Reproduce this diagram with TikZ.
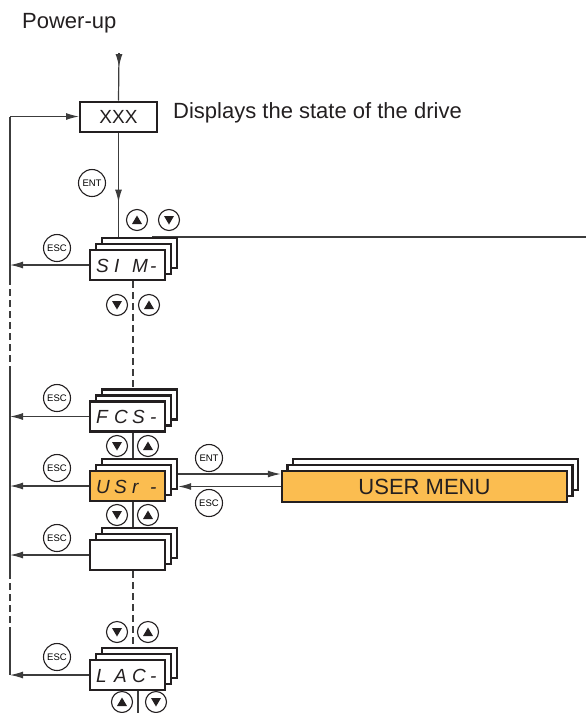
\documentclass[tikz,border=0pt]{standalone}
\usepackage{fontspec}
\setmainfont{Liberation Sans}
\usetikzlibrary{arrows.meta,calc}
\definecolor{ink}{RGB}{35,31,32}
\definecolor{lin}{RGB}{60,60,60}
\definecolor{orng}{RGB}{251,189,80}
\newcommand\segchars[4]{\makebox[18pt][l]{#1}\makebox[18pt][l]{#2}\makebox[18pt][l]{#3}\makebox[10pt][l]{#4}}
\tikzset{
 card/.style={draw=ink, line width=2.4pt, fill=white, minimum width=75pt, minimum height=30pt, inner sep=0pt},
 bigcard/.style={card, minimum width=285pt, minimum height=31pt},
 conn/.style={draw=lin, line width=1.2pt},
 arr/.style={conn, -{Latex[length=13pt,width=7pt]}},
 dashline/.style={conn, dash pattern=on 7pt off 4pt},
 keybtn/.style={circle, draw=ink, line width=1.1pt, fill=white, minimum size=27pt, inner sep=0pt, font=\fontsize{9.5}{9.5}\selectfont},
 navbtn/.style={circle, draw=ink, line width=1.1pt, fill=white, minimum size=21pt, inner sep=0pt},
 upbtn/.style={navbtn, path picture={\fill[ink] ([yshift=4.5pt]path picture bounding box.center) -- ++(5pt,-8.5pt) -- ++(-10pt,0pt) -- cycle;}},
 downbtn/.style={navbtn, path picture={\fill[ink] ([yshift=-4.5pt]path picture bounding box.center) -- ++(5pt,8.5pt) -- ++(-10pt,0pt) -- cycle;}},
 segtxt/.style={anchor=base west, inner sep=0pt, font=\fontsize{19}{19}\selectfont\itshape, text=ink},
 bigtxt/.style={font=\fontsize{22}{22}\selectfont, text=ink, inner sep=0pt},
}
\begin{document}
\begin{tikzpicture}[x=1pt,y=-1pt]
\useasboundingbox (0,0) rectangle (586,713);
% texts on top
\node[bigtxt, anchor=base west] (pwr) at (22,28) {Power-up};
\coordinate (pu) at (119,53);
\node[draw=ink, line width=2pt, fill=white, minimum width=77pt, minimum height=30pt, inner sep=0pt, font=\fontsize{19}{19}\selectfont, text=ink] (xxx) at (118.5,116.5) {XXX};
\node[bigtxt, anchor=base west] (disp) at (173,118) {Displays the state of the drive};
% helper coordinates
\coordinate (lft) at (10,0);
\coordinate (col) at (133,0);
\coordinate (bcol) at (138,713);
\coordinate (rl) at (152,237);
\coordinate (rr) at (586,237);
\coordinate (la) at (10,278);
\coordinate (lb) at (10,370);
\coordinate (lc) at (10,572);
\coordinate (ld) at (10,628);
% card positions (front centres)
\path (127.5,265) coordinate (sinP) (127.5,416.5) coordinate (fcsP) (127.5,486) coordinate (usrP)
      (127.5,555) coordinate (blkP) (127.5,675) coordinate (lacP);
% placeholder nodes for geometry (invisible), drawn later
\path (sinP) ++(12,-12) node[card, draw=none, fill=none] (sin3) {};
\path (fcsP) ++(12,-12) node[card, draw=none, fill=none] (fcs3) {};
\path (usrP) ++(12,-12) node[card, draw=none, fill=none] (usr3) {};
\path (blkP) ++(12,-12) node[card, draw=none, fill=none] (blk3) {};
\path (lacP) ++(12,-12) node[card, draw=none, fill=none] (lac3) {};
\node[card, draw=none, fill=none] (sin1) at (sinP) {};
\node[card, draw=none, fill=none] (fcs1) at (fcsP) {};
\node[card, draw=none, fill=none] (usr1) at (usrP) {};
\node[card, draw=none, fill=none] (blk1) at (blkP) {};
\node[card, draw=none, fill=none] (lac1) at (lacP) {};
\node[bigcard, draw=none, fill=none] (um1) at (424.5,486.5) {};
% connectors
\draw[conn] (pu) -- (xxx.north);
\draw[arr] (pu) -- ++(0,14);
\draw[conn] (xxx.south) -- (xxx.south |- sin3.north);
\draw[arr] (xxx.south) -- ++(0,70);
\draw[conn] (rl) -- (rr);
\draw[arr] (xxx.west -| lft) -- (xxx.west);
\draw[conn] (xxx.west -| lft) -- (la);
\draw[dashline] (la) -- (lb);
\draw[conn] (lb) -- (lc);
\draw[dashline] (lc) -- (ld);
\draw[conn] (ld) -- (lac1.west -| lft);
\draw[dashline] (col |- sin1.south) -- (col |- fcs3.north);
\draw[conn] (col |- fcs1.south) -- (col |- usr3.north);
\draw[conn] (col |- usr1.south) -- (col |- blk3.north);
\draw[dashline] (col |- blk1.south) -- (col |- lac3.north);
\draw[conn] (bcol |- lac1.south) -- (bcol);
\foreach \n in {sin1,fcs1,usr1,blk1,lac1}{\draw[arr] (\n.west) -- (\n.west -| lft);}
\draw[arr] (usr3.east) -- (um1.west |- usr3.east);
\draw[arr] (um1.west) -- (usr3.east |- um1.west);
% card stacks
\foreach \p/\f in {sinP/white,fcsP/white,usrP/orng,blkP/white,lacP/white}{
  \path (\p) ++(12,-12) node[card] {};
  \path (\p) ++(6,-6) node[card] {};
  \node[card, fill=\f] at (\p) {};
}
\path (um1) ++(11,-12) node[bigcard] (um3) {};
\path (um1) ++(5.5,-6) node[bigcard] (um2) {};
\node[bigcard, fill=orng] (um1v) at (um1) {};
\node[bigtxt, anchor=base] (umt) at (424.5,494) {USER MENU};
% 7-segment texts
\node[segtxt] (sint) at (96,272.5) {\segchars{S}{I}{M}{-}};
\node[segtxt] (fcst) at (96,423.5) {\segchars{F}{C}{S}{-}};
\node[segtxt] (usrt) at (96,493) {\segchars{U}{S}{r}{-}};
\node[segtxt] (lact) at (96,682) {\segchars{L}{A}{C}{-}};
% buttons
\node[keybtn] (ent0) at (92,183) {ENT};
\node[upbtn] (u0) at (137,220) {};
\node[downbtn] (d0) at (169,220) {};
\node[keybtn] (esc1) at (57,248) {ESC};
\node[downbtn] (d1) at (117,305) {};
\node[upbtn] (u1) at (149,305) {};
\node[keybtn] (esc2) at (57,398) {ESC};
\node[downbtn] (d2) at (117,446) {};
\node[upbtn] (u2) at (148,446) {};
\node[keybtn] (esc3) at (57,468) {ESC};
\node[keybtn] (ent1) at (209,458) {ENT};
\node[keybtn] (esc4) at (209,503) {ESC};
\node[downbtn] (d3) at (117,515) {};
\node[upbtn] (u3) at (148,515) {};
\node[keybtn] (esc5) at (57,538) {ESC};
\node[downbtn] (d4) at (117,632) {};
\node[upbtn] (u4) at (148,632) {};
\node[keybtn] (esc6) at (57,657) {ESC};
\node[upbtn] (u5) at (122,702) {};
\node[downbtn] (d5) at (156,702) {};
\end{tikzpicture}
\end{document}
